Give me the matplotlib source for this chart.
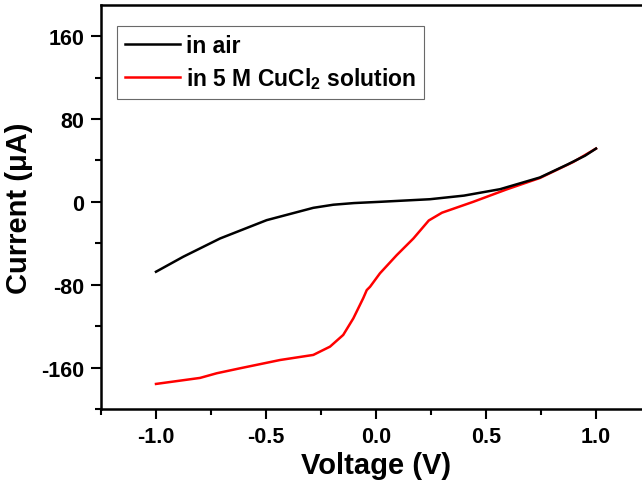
import matplotlib
matplotlib.use("Agg")
import matplotlib.pyplot as plt
from matplotlib.ticker import MultipleLocator

plt.rcParams['font.family'] = ['Liberation Sans', 'DejaVu Sans']
plt.rcParams['font.weight'] = 'bold'
plt.rcParams['mathtext.fontset'] = 'custom'
plt.rcParams['mathtext.bf'] = 'Liberation Sans:bold'

# I-V data
air_v = [-1.0, -0.876, -0.709, -0.497, -0.285, -0.194, -0.10, 0.018, 0.245, 0.40, 0.564, 0.745, 0.87, 0.95, 1.0]
air_i = [-67.5, -53, -35.4, -17.7, -5.8, -2.8, -1.2, 0, 2.5, 6.0, 12.2, 23.5, 36, 44.5, 51.4]

sol_v = [-1.0, -0.8, -0.724, -0.618, -0.436, -0.285, -0.209, -0.149, -0.103, -0.058, -0.042,
         -0.027, 0.018, 0.094, 0.17, 0.24, 0.30, 0.442, 0.594, 0.745, 0.897, 1.0]
sol_i = [-175.8, -170, -165.5, -160.7, -152.7, -147.8, -139.8, -128.5, -112.5, -93, -85.2,
         -82, -69, -51.5, -35.4, -18, -10.5, 0, 12.0, 23, 38.5, 51.4]

fig = plt.figure(figsize=(6.42, 4.89), dpi=100)
ax = fig.add_axes([101 / 642, 79 / 489, 550 / 642, 404 / 489])

ax.plot(sol_v, sol_i, color='red', lw=1.8, label='in 5 M CuCl$_\\mathbf{2}$ solution')
ax.plot(air_v, air_i, color='black', lw=1.8, label='in air')

ax.set_xlim(-1.25, 1.25)
ax.set_ylim(-200, 190)
ax.xaxis.set_minor_locator(MultipleLocator(0.25))
ax.yaxis.set_minor_locator(MultipleLocator(40))
ax.set_xticks([-1.0, -0.5, 0.0, 0.5, 1.0])
ax.set_xticklabels(['-1.0', '-0.5', '0.0', '0.5', '1.0'])
ax.set_yticks([-160, -80, 0, 80, 160])
ax.set_yticklabels(['-160', '-80', '0', '80', '160'])

ax.tick_params(which='major', direction='out', length=7, width=1.5, labelsize=15.5, pad=5,
               top=False, right=False)
ax.tick_params(which='minor', direction='out', length=4, width=1.5, top=False, right=False)
for s in ax.spines.values():
    s.set_linewidth(1.8)

ax.set_xlabel('Voltage (V)', fontsize=21, fontweight='bold', labelpad=3)
ax.set_ylabel('Current (\u03bcA)', fontsize=21, fontweight='bold', labelpad=6)

handles, labels = ax.get_legend_handles_labels()
leg = ax.legend(handles[::-1], labels[::-1], loc='upper left', bbox_to_anchor=(0.029, 0.948),
                borderaxespad=0, fontsize=16.5, frameon=True, fancybox=False, handlelength=2.4,
                handletextpad=0.25, borderpad=0.35, labelspacing=0.35)
leg.get_frame().set_edgecolor('#444444')
leg.get_frame().set_linewidth(0.8)

fig.savefig('out.png', dpi=100)
